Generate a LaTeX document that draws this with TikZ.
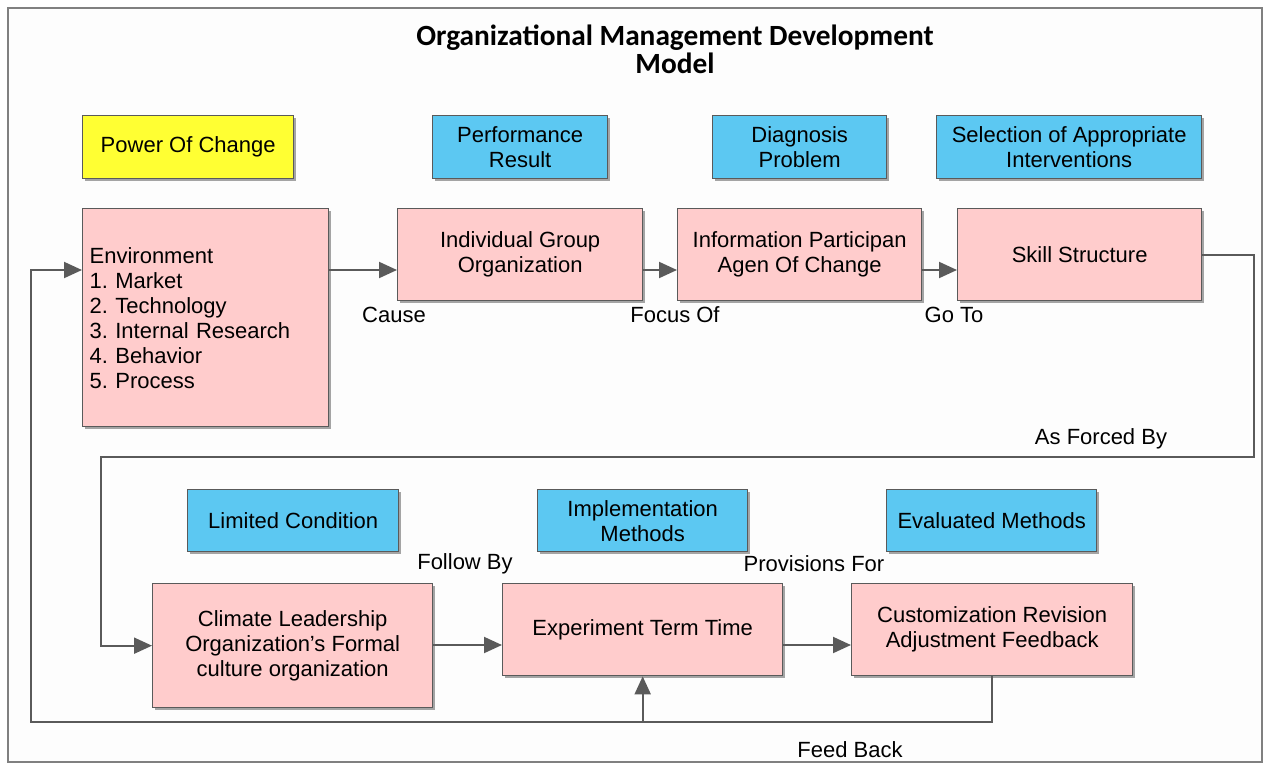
\documentclass[tikz,border=0pt]{standalone}
\usepackage{fontspec}
\setmainfont{Liberation Sans}
\newfontfamily\titlefont{Carlito}
\usetikzlibrary{arrows.meta,shadows,calc}
\definecolor{pinkfill}{HTML}{FFCCCC}
\definecolor{bluefill}{HTML}{5CC8F2}
\definecolor{yellowfill}{HTML}{FFFF33}
\definecolor{boxedge}{HTML}{5A5A5A}
\definecolor{linegray}{HTML}{5A5A5A}
\definecolor{framefill}{HTML}{FDFDFD}
\def\pu{0.75pt}
\newcommand\bodyfont{\frenchspacing\fontsize{16.5}{18.75}\selectfont}
\tikzset{
  box/.style={draw=boxedge, line width=1pt, inner sep=0pt, align=center,
    font=\bodyfont, anchor=north west,
    drop shadow={shadow xshift=1.5pt, shadow yshift=-1.5pt, fill=black, opacity=0.35}},
  pinkbox/.style={box, fill=pinkfill},
  bluebox/.style={box, fill=bluefill},
  yellowbox/.style={box, fill=yellowfill},
  conn/.style={draw=linegray, line width=1.5pt},
  arr/.style={conn, -{Triangle[length=13.5pt,width=12pt]}},
  lbl/.style={font=\bodyfont, inner sep=0pt}
}
\begin{document}
\begin{tikzpicture}[x=0.75pt,y=-0.75pt]
\useasboundingbox (0,0) rectangle (1264,764);
\draw[draw=gray, line width=1pt, fill=framefill] (8,8) rectangle (1262,762);

% title
\node[font=\titlefont\bfseries\fontsize{22}{21}\selectfont, align=center] (title) at (675,49)
  {Organizational Management Development\\Model};

% top row
\node[yellowbox, minimum width=211*\pu, minimum height=63*\pu] (power) at (82,115) {Power Of Change};
\node[bluebox, minimum width=175*\pu, minimum height=63*\pu] (perf) at (432,115) {Performance\\Result};
\node[bluebox, minimum width=174*\pu, minimum height=63*\pu] (diag) at (712,115) {Diagnosis\\Problem};
\node[bluebox, minimum width=265*\pu, minimum height=63*\pu] (sel) at (936,115) {Selection of Appropriate\\Interventions};

\node[pinkbox, minimum width=246*\pu, minimum height=218*\pu, align=left,
  text width=232*\pu, inner xsep=7*\pu] (env) at (82,208)
  {Environment\\1. Market\\2. Technology\\3. Internal Research\\4. Behavior\\5. Process};
\node[pinkbox, minimum width=245*\pu, minimum height=92*\pu] (ind) at (397,208) {Individual Group\\Organization};
\node[pinkbox, minimum width=244*\pu, minimum height=92*\pu] (info) at (677,208) {Information Participan\\Agen Of Change};
\node[pinkbox, minimum width=244*\pu, minimum height=92*\pu] (skill) at (957,208) {Skill Structure};

% bottom row
\node[bluebox, minimum width=211*\pu, minimum height=62*\pu] (lim) at (187,489) {Limited Condition};
\node[bluebox, minimum width=210*\pu, minimum height=62*\pu] (impl) at (537,489) {Implementation\\Methods};
\node[bluebox, minimum width=210*\pu, minimum height=62*\pu] (eval) at (886,489) {Evaluated Methods};

\node[pinkbox, minimum width=280*\pu, minimum height=124*\pu] (clim) at (152,583)
  {Climate Leadership\\Organization's Formal\\culture organization};
\node[pinkbox, minimum width=280*\pu, minimum height=92*\pu] (exp) at (502,583) {Experiment Term Time};
\node[pinkbox, minimum width=281*\pu, minimum height=92*\pu] (cust) at (851,583)
  {Customization Revision\\Adjustment Feedback};

% connectors
\coordinate (yA) at (0,270);
\coordinate (yB) at (0,645);
\draw[arr] (env.east |- yA) -- (ind.west |- yA);
\draw[arr] (ind.east |- yA) -- (info.west |- yA);
\draw[arr] (info.east |- yA) -- (skill.west |- yA);
\coordinate (r1) at (1254,457);
\coordinate (l1) at (101,457);
\draw[arr] (skill.east |- 0,255) -| (r1) -- (l1) |- (clim.west);
\draw[arr] (clim.east |- yB) -- (exp.west |- yB);
\draw[arr] (exp.east |- yB) -- (cust.west |- yB);
\coordinate (fb) at (992,722);
\coordinate (fbl) at (31,722);
\draw[arr] (cust.south -| fb) -- (fb) -| (exp.south);
\draw[arr] (fb) -- (fbl) |- (env.west |- yA);

% labels
\node[lbl] (cause) at (394,315) {Cause};
\node[lbl] (focus) at (675,315) {Focus Of};
\node[lbl] (goto) at (954,315) {Go To};
\node[lbl] (forced) at (1101,439) {As Forced By};
\node[lbl] (follow) at (465,564) {Follow By};
\node[lbl] (prov) at (814,564) {Provisions For};
\node[lbl] (feed) at (850,750) {Feed Back};
\end{tikzpicture}
\end{document}
